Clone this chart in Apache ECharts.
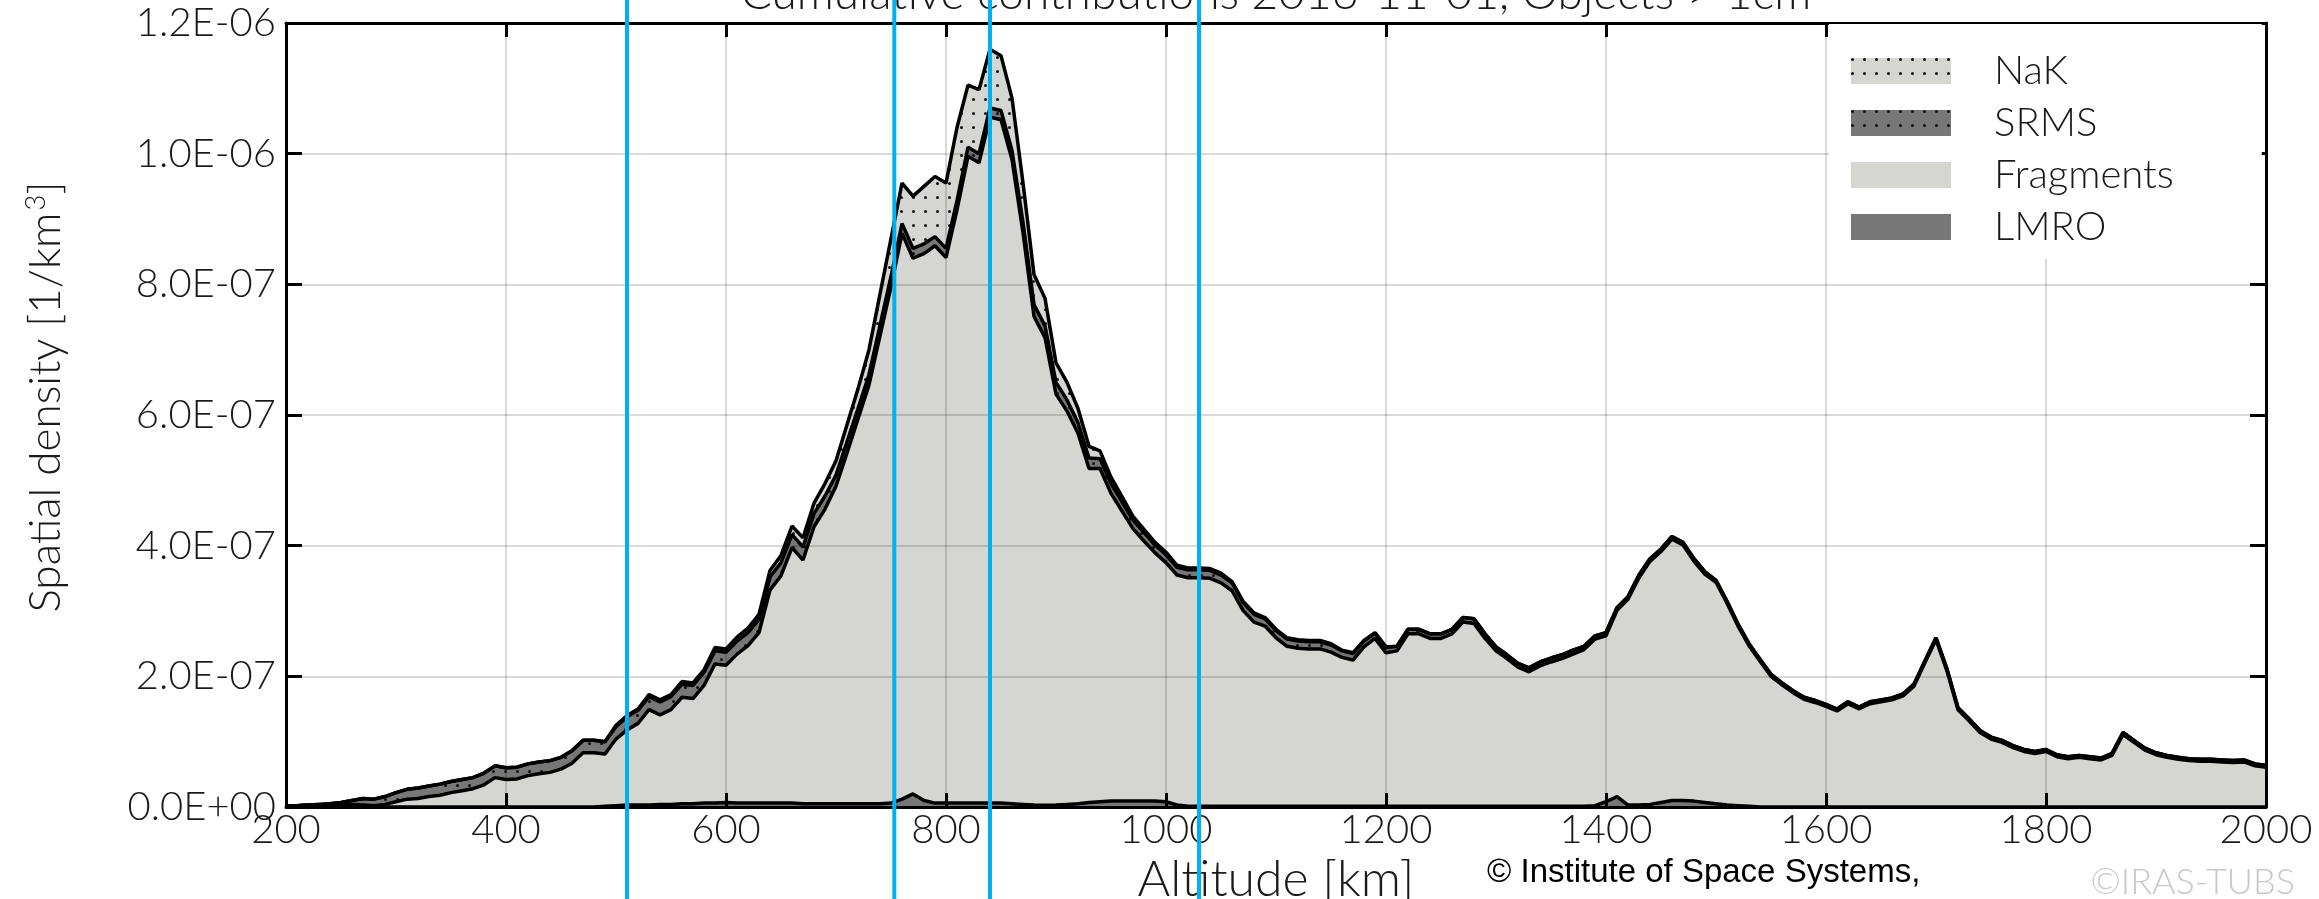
<!DOCTYPE html>
<html>
<head>
<meta charset="utf-8">
<script src="https://cdn.jsdelivr.net/npm/echarts@6/dist/echarts.min.js"></script>
<style>
html, body { margin: 0; padding: 0; background: #fff; }
#chart { width: 2319px; height: 899px; }
</style>
</head>
<body>
<div id="chart"></div>
<script>
// altitude grid [km]
const altitudes = [
  200, 210, 220, 230, 240, 250, 260, 270, 280, 290,
  300, 310, 320, 330, 340, 350, 360, 370, 380, 390,
  400, 410, 420, 430, 440, 450, 460, 470, 480, 490,
  500, 510, 520, 530, 540, 550, 560, 570, 580, 590,
  600, 610, 620, 630, 640, 650, 660, 670, 680, 690,
  700, 710, 720, 730, 740, 750, 760, 770, 780, 790,
  800, 810, 820, 830, 840, 850, 860, 870, 880, 890,
  900, 910, 920, 930, 940, 950, 960, 970, 980, 990,
  1000, 1010, 1020, 1030, 1040, 1050, 1060, 1070, 1080, 1090,
  1100, 1110, 1120, 1130, 1140, 1150, 1160, 1170, 1180, 1190,
  1200, 1210, 1220, 1230, 1240, 1250, 1260, 1270, 1280, 1290,
  1300, 1310, 1320, 1330, 1340, 1350, 1360, 1370, 1380, 1390,
  1400, 1410, 1420, 1430, 1440, 1450, 1460, 1470, 1480, 1490,
  1500, 1510, 1520, 1530, 1540, 1550, 1560, 1570, 1580, 1590,
  1600, 1610, 1620, 1630, 1640, 1650, 1660, 1670, 1680, 1690,
  1700, 1710, 1720, 1730, 1740, 1750, 1760, 1770, 1780, 1790,
  1800, 1810, 1820, 1830, 1840, 1850, 1860, 1870, 1880, 1890,
  1900, 1910, 1920, 1930, 1940, 1950, 1960, 1970, 1980, 1990,
  2000
]

// spatial density contributions, in units of 1E-07 1/km3
const lmro = [
  0, 0, 0, 0, 0, 0, 0, 0, 0, 0,
  0, 0, 0, 0, 0, 0, 0, 0, 0, 0,
  0, 0, 0, 0, 0, 0, 0, 0, 0, 0.01,
  0.02, 0.03, 0.03, 0.03, 0.04, 0.04, 0.05, 0.05, 0.06, 0.06,
  0.07, 0.06, 0.06, 0.06, 0.06, 0.06, 0.06, 0.05, 0.05, 0.05,
  0.05, 0.05, 0.05, 0.05, 0.05, 0.06, 0.12, 0.20, 0.10, 0.06,
  0.06, 0.06, 0.06, 0.06, 0.06, 0.06, 0.05, 0.04, 0.03, 0.025,
  0.03, 0.04, 0.05, 0.07, 0.08, 0.09, 0.09, 0.09, 0.09, 0.09,
  0.08, 0.03, 0.01, 0.01, 0.01, 0.01, 0.01, 0.01, 0.01, 0.01,
  0.01, 0.01, 0.01, 0.01, 0.01, 0.01, 0.01, 0.01, 0.01, 0.01,
  0.01, 0.01, 0.01, 0.01, 0.01, 0.01, 0.01, 0.01, 0.01, 0.01,
  0.01, 0.01, 0.01, 0.01, 0.01, 0.01, 0.01, 0.01, 0.01, 0.02,
  0.08, 0.16, 0.03, 0.03, 0.04, 0.07, 0.10, 0.10, 0.09, 0.07,
  0.05, 0.03, 0.02, 0.01, 0, 0, 0, 0, 0, 0,
  0, 0, 0, 0, 0, 0, 0, 0, 0, 0,
  0, 0, 0, 0, 0, 0, 0, 0, 0, 0,
  0, 0, 0, 0, 0, 0, 0, 0, 0, 0,
  0, 0, 0, 0, 0, 0, 0, 0, 0, 0,
  0
]

const fragments = [
  0.02, 0.02, 0.03, 0.03, 0.03, 0.04, 0.04, 0.03, 0.02, 0.04,
  0.08, 0.12, 0.13, 0.16, 0.18, 0.22, 0.25, 0.28, 0.34, 0.45,
  0.42, 0.43, 0.48, 0.51, 0.53, 0.58, 0.67, 0.83, 0.83, 0.80,
  1.02, 1.15, 1.25, 1.46, 1.37, 1.45, 1.63, 1.61, 1.80, 2.13,
  2.10, 2.28, 2.41, 2.61, 3.26, 3.48, 3.91, 3.73, 4.24, 4.51,
  4.86, 5.37, 5.89, 6.41, 7.16, 7.90, 8.66, 8.20, 8.37, 8.53,
  8.35, 9.08, 9.90, 9.80, 10.50, 10.46, 9.86, 8.75, 7.48, 7.16,
  6.29, 6.02, 5.67, 5.11, 5.10, 4.71, 4.44, 4.17, 3.98, 3.80,
  3.66, 3.52, 3.50, 3.50, 3.49, 3.42, 3.30, 3.00, 2.82, 2.76,
  2.58, 2.45, 2.42, 2.41, 2.41, 2.36, 2.28, 2.24, 2.44, 2.57,
  2.35, 2.38, 2.64, 2.64, 2.57, 2.57, 2.64, 2.82, 2.80, 2.57,
  2.38, 2.26, 2.13, 2.06, 2.15, 2.21, 2.26, 2.33, 2.40, 2.55,
  2.54, 2.85, 3.15, 3.48, 3.72, 3.84, 4.00, 3.91, 3.67, 3.49,
  3.39, 3.09, 2.75, 2.46, 2.23, 2.00, 1.87, 1.75, 1.65, 1.60,
  1.54, 1.47, 1.58, 1.50, 1.58, 1.61, 1.64, 1.70, 1.85, 2.21,
  2.56, 2.08, 1.49, 1.32, 1.14, 1.04, 0.99, 0.91, 0.85, 0.82,
  0.85, 0.77, 0.74, 0.76, 0.74, 0.72, 0.79, 1.11, 0.99, 0.87,
  0.80, 0.76, 0.73, 0.71, 0.70, 0.70, 0.69, 0.68, 0.69, 0.63,
  0.61
]

const srms = [
  0, 0, 0, 0.01, 0.02, 0.03, 0.06, 0.10, 0.10, 0.12,
  0.14, 0.15, 0.16, 0.16, 0.17, 0.17, 0.17, 0.17, 0.18, 0.18,
  0.18, 0.18, 0.18, 0.18, 0.18, 0.18, 0.19, 0.19, 0.19, 0.19,
  0.19, 0.20, 0.20, 0.20, 0.20, 0.20, 0.20, 0.20, 0.20, 0.20,
  0.20, 0.20, 0.20, 0.20, 0.20, 0.20, 0.20, 0.20, 0.20, 0.20,
  0.17, 0.17, 0.16, 0.16, 0.16, 0.16, 0.15, 0.15, 0.15, 0.14,
  0.14, 0.14, 0.14, 0.14, 0.14, 0.14, 0.14, 0.16, 0.18, 0.18,
  0.18, 0.17, 0.16, 0.16, 0.15, 0.15, 0.14, 0.13, 0.13, 0.12,
  0.12, 0.12, 0.12, 0.12, 0.12, 0.12, 0.12, 0.12, 0.12, 0.11,
  0.11, 0.11, 0.11, 0.11, 0.11, 0.11, 0.10, 0.10, 0.09, 0.08,
  0.08, 0.07, 0.07, 0.07, 0.07, 0.07, 0.07, 0.07, 0.07, 0.07,
  0.06, 0.06, 0.06, 0.06, 0.06, 0.06, 0.06, 0.06, 0.05, 0.05,
  0.05, 0.04, 0.04, 0.04, 0.04, 0.04, 0.04, 0.04, 0.04, 0.04,
  0.03, 0.03, 0.03, 0.03, 0.03, 0.03, 0.03, 0.03, 0.03, 0.03,
  0.03, 0.03, 0.03, 0.03, 0.03, 0.03, 0.03, 0.03, 0.03, 0.03,
  0.03, 0.03, 0.03, 0.03, 0.03, 0.03, 0.03, 0.03, 0.03, 0.03,
  0.03, 0.03, 0.03, 0.03, 0.03, 0.03, 0.03, 0.03, 0.03, 0.03,
  0.03, 0.03, 0.03, 0.03, 0.03, 0.03, 0.03, 0.03, 0.03, 0.03,
  0.03
]

const nak = [
  0, 0, 0, 0, 0, 0, 0, 0, 0, 0,
  0, 0, 0, 0, 0, 0, 0, 0, 0, 0,
  0, 0, 0, 0, 0, 0, 0, 0, 0, 0,
  0.02, 0.02, 0.02, 0.03, 0.03, 0.03, 0.04, 0.04, 0.04, 0.05,
  0.05, 0.06, 0.07, 0.08, 0.10, 0.11, 0.13, 0.14, 0.16, 0.19,
  0.22, 0.26, 0.30, 0.38, 0.48, 0.58, 0.62, 0.80, 0.88, 0.92,
  1.00, 1.12, 0.95, 0.98, 0.90, 0.84, 0.80, 0.60, 0.46, 0.42,
  0.30, 0.27, 0.22, 0.18, 0.12, 0.10, 0.08, 0.06, 0.05, 0.04,
  0.04, 0.03, 0.03, 0.03, 0.03, 0.03, 0.02, 0.02, 0.02, 0.02,
  0.02, 0.02, 0.02, 0.02, 0.02, 0.02, 0.01, 0.01, 0.01, 0.01,
  0.01, 0, 0, 0, 0, 0, 0, 0, 0, 0,
  0, 0, 0, 0, 0, 0, 0, 0, 0, 0,
  0, 0, 0, 0, 0, 0, 0, 0, 0, 0,
  0, 0, 0, 0, 0, 0, 0, 0, 0, 0,
  0, 0, 0, 0, 0, 0, 0, 0, 0, 0,
  0, 0, 0, 0, 0, 0, 0, 0, 0, 0,
  0, 0, 0, 0, 0, 0, 0, 0, 0, 0,
  0, 0, 0, 0, 0, 0, 0, 0, 0, 0,
  0
]

// blue reference lines [km]
const markers = [510, 753, 840, 1030]

const font = 'Lato, "Open Sans", sans-serif'
const textColor = '#1a1a1a'
const light = '#d5d5d1'
const dark = '#777777'

const dots = {
  symbol: 'circle',
  symbolSize: 1,
  color: '#111',
  dashArrayX: [3, 9],
  dashArrayY: [3, 11],
  rotation: 0
}

function sci (v) {
  // axis values are in 1E-07 units
  let s = (v * 1e-7).toExponential(1).toUpperCase()
  let parts = s.split('E')
  let n = parseInt(parts[1], 10)
  return parts[0] + 'E' + (n < 0 ? '-' : '+') + String(Math.abs(n)).padStart(2, '0')
}

function areaSeries (name, values, fill, decal) {
  return {
    name: name,
    type: 'line',
    stack: 'total',
    symbol: 'none',
    showSymbol: false,
    z: 2,
    xAxisIndex: 0,
    yAxisIndex: 0,
    data: values,
    lineStyle: { color: '#000', width: 3.5, decal: decal },
    itemStyle: { color: fill, decal: decal },
    areaStyle: { color: fill, opacity: 1 },
    emphasis: { disabled: true }
  }
}

const chart = echarts.init(document.getElementById('chart'))

const axisLine = { show: true, onZero: false, lineStyle: { color: '#000', width: 3 } }
const tickStyle = { color: '#000', width: 3 }
const gridLine = { show: true, lineStyle: { color: 'rgba(0,0,0,0.2)', width: 1.5 } }

const option = {
  animation: false,
  backgroundColor: '#fff',
  grid: { left: 286, right: 53, top: 23, bottom: 92, outerBoundsMode: 'none' },
  xAxis: [
    {
      // altitude bins, one category every 10 km
      type: 'category',
      position: 'bottom',
      data: altitudes,
      boundaryGap: false,
      z: 5,
      axisLine: axisLine,
      axisTick: { show: true, inside: true, length: 14, interval: 19, lineStyle: tickStyle },
      axisLabel: { interval: 19, margin: 3, fontSize: 40, fontFamily: font, fontWeight: 300, color: textColor },
      splitLine: { show: false },
      name: 'Altitude [km]',
      nameLocation: 'middle',
      nameGap: 43,
      nameTextStyle: { fontSize: 50, fontFamily: font, fontWeight: 300, color: textColor }
    },
    {
      type: 'value',
      position: 'top',
      min: 200, max: 2000, interval: 200,
      z: 5,
      axisLine: axisLine,
      axisTick: { show: true, inside: true, length: 14, lineStyle: tickStyle },
      axisLabel: { show: false },
      splitLine: gridLine
    }
  ],
  yAxis: [
    {
      type: 'value',
      position: 'left',
      min: 0, max: 12, interval: 2,
      z: 5,
      axisLine: axisLine,
      axisTick: { show: true, inside: true, length: 16, lineStyle: tickStyle },
      axisLabel: { margin: 10, fontSize: 40, fontFamily: font, fontWeight: 300, color: textColor, formatter: sci },
      splitLine: { show: false },
      name: 'Spatial density [1/km{sup|3}]',
      nameLocation: 'middle',
      nameGap: 216,
      nameRotate: 90,
      nameTextStyle: {
        fontSize: 44, fontFamily: font, fontWeight: 300, color: textColor,
        padding: [0, 0, 0, 36],
        rich: { sup: { fontSize: 28, fontFamily: font, fontWeight: 300, color: textColor, padding: [0, 0, 20, 2] } }
      }
    },
    {
      type: 'value',
      position: 'right',
      min: 0, max: 12, interval: 2,
      z: 5,
      axisLine: axisLine,
      axisTick: { show: true, inside: true, length: 16, lineStyle: tickStyle },
      axisLabel: { show: false },
      splitLine: gridLine
    }
  ],
  legend: {
    orient: 'vertical',
    left: 1829,
    top: 24,
    z: 6,
    padding: [27, 88, 12, 22],
    backgroundColor: '#fff',
    itemWidth: 100,
    itemHeight: 26,
    itemGap: 12,
    icon: 'rect',
    selectedMode: false,
    textStyle: { fontSize: 40, fontFamily: font, fontWeight: 300, color: textColor, lineHeight: 26, padding: [0, 0, 0, 38] },
    data: [
      { name: 'NaK', itemStyle: { color: light, borderWidth: 0, decal: dots } },
      { name: 'SRMS', itemStyle: { color: dark, borderWidth: 0, decal: dots } },
      { name: 'Fragments', itemStyle: { color: light, borderWidth: 0, decal: 'none' } },
      { name: 'LMRO', itemStyle: { color: dark, borderWidth: 0, decal: 'none' } }
    ]
  },
  series: [
    areaSeries('LMRO', lmro, dark),
    areaSeries('Fragments', fragments, light),
    areaSeries('SRMS', srms, dark, dots),
    areaSeries('NaK', nak, light, dots)
  ]
}

chart.setOption(option)

// vertical blue lines spanning the whole picture, placed through the altitude value axis
const blueLines = markers.map(km => {
  const x = chart.convertToPixel({ xAxisIndex: 1 }, km)
  return {
    type: 'line',
    z: 100,
    shape: { x1: x, y1: 0, x2: x, y2: 899 },
    style: { stroke: '#00b0f0', lineWidth: 4 }
  }
})

chart.setOption({
  graphic: [
    {
      type: 'text', x: 1276, y: 17, z: 50,
      style: {
        text: 'Cumulative contributions 2016-11-01, Objects > 1cm',
        align: 'center', verticalAlign: 'bottom',
        fontSize: 46, fontFamily: font, fontWeight: 300, fill: textColor
      }
    },
    {
      type: 'text', x: 1487, y: 873, z: 50,
      style: {
        text: '\u00a9 Institute of Space Systems,',
        align: 'left', verticalAlign: 'middle',
        fontSize: 33, fontFamily: '"Liberation Sans Narrow", "Liberation Sans", sans-serif', fill: '#000'
      }
    },
    {
      type: 'text', x: 2295, y: 882, z: 50,
      style: {
        text: '\u00a9IRAS-TUBS',
        align: 'right', verticalAlign: 'middle',
        fontSize: 36, fontFamily: font, fontWeight: 300, fill: '#c8c8c8'
      }
    }
  ].concat(blueLines)
})
</script>
</body>
</html>
